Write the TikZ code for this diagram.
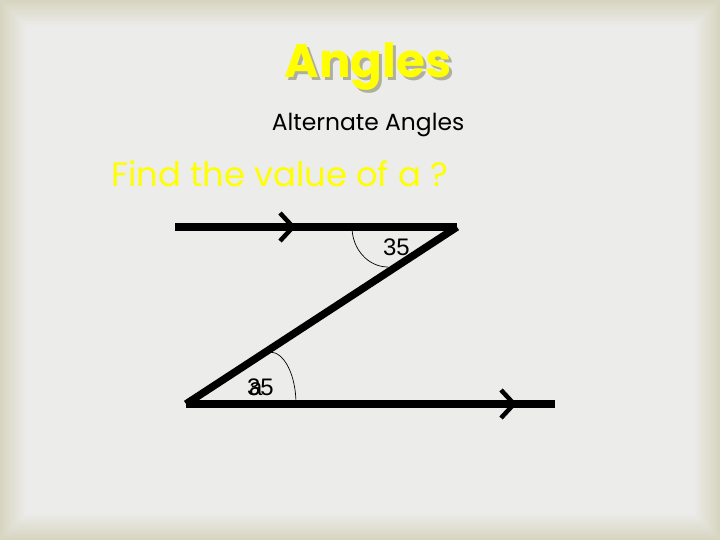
\documentclass[tikz,border=0pt]{standalone}
\usepackage{fontspec}
\setmainfont{Liberation Sans}
\newfontfamily\comicfont{Poppins}
\definecolor{bgedge}{RGB}{214,212,190}
\definecolor{bgmid}{RGB}{236,236,235}
\definecolor{ttlyellow}{RGB}{255,255,0}
\definecolor{ttlshadow}{RGB}{175,175,160}
\begin{document}
\begin{tikzpicture}[x=1bp,y=-1bp,
  thickline/.style={line width=7.5bp,line cap=butt},
  chevron/.style={line width=4.5bp,line cap=butt,line join=miter},
  anglearc/.style={line width=0.7bp},
  numlabel/.style={font=\fontsize{24}{24}\selectfont,inner sep=0pt,anchor=base west},
]
\useasboundingbox (0,0) rectangle (720,540);
% background vignette
\fill[bgedge] (0,0) rectangle (720,540);
\foreach \i in {0,...,19}{
  \pgfmathsetmacro{\pc}{100*(\i+1)/20}
  \fill[bgmid!\pc!bgedge] (\i*1.4,\i*1.4) rectangle (720-\i*1.4,540-\i*1.4);
}
% titles
\node[inner sep=0pt,anchor=base,text=ttlshadow,font=\comicfont\bfseries\fontsize{47}{47}\selectfont] (titleshadow) at (371,81) {Angles};
\node[inner sep=0pt,anchor=base,text=ttlyellow,font=\comicfont\bfseries\fontsize{47}{47}\selectfont] (title) at (368,78) {Angles};
\node[inner sep=0pt,anchor=base,font=\comicfont\fontsize{23.5}{23.5}\selectfont] (subtitle) at (368,131) {Alternate Angles};
\node[inner sep=0pt,anchor=base west,text=ttlyellow,font=\comicfont\fontsize{34}{34}\selectfont] (question) at (111,187) {Find the value of a ?};
% Z figure
\coordinate (A) at (175,227);
\coordinate (B) at (457,227);
\coordinate (C) at (186,404);
\coordinate (D) at (555,404);
\draw[thickline] (A) -- (B);
\draw[thickline] (B) -- (C);
\draw[thickline] (C) -- (D);
% arrow chevrons
\coordinate (t1) at (280,213);
\coordinate (t2) at (293,227);
\coordinate (t3) at (280,241);
\draw[chevron] (t1) -- (t2) -- (t3);
\coordinate (b1) at (501,390);
\coordinate (b2) at (514,404);
\coordinate (b3) at (501,418);
\draw[chevron] (b1) -- (b2) -- (b3);
% angle arcs
\coordinate (ta) at (352,227);
\draw[anglearc] (ta) arc[start angle=180,end angle=90,x radius=36,y radius=40];
\coordinate (ba) at (270,352);
\draw[anglearc] (ba) arc[start angle=-90,end angle=0,x radius=26,y radius=52];
% labels
\node[numlabel] (topnum) at (383,256) {35};
\node[numlabel] (botnum) at (247,395) {35};
\node[numlabel] (aval) at (249,395) {a};
\end{tikzpicture}
\end{document}
